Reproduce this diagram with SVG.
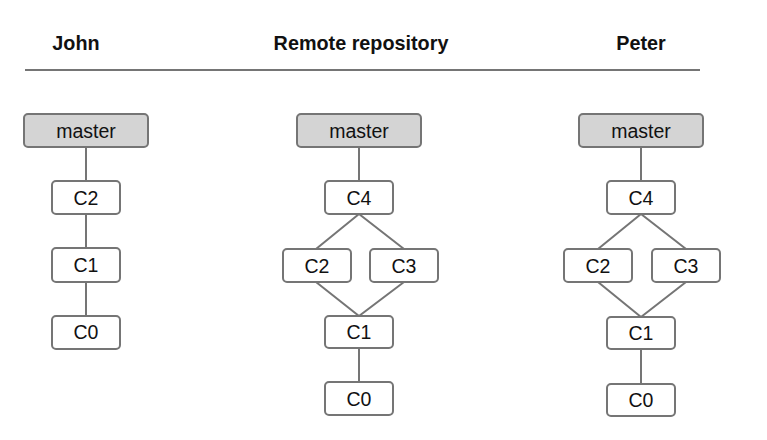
<svg xmlns="http://www.w3.org/2000/svg" width="767" height="440" viewBox="0 0 767 440">
<style>
.bg{fill:#fff}
.title{font-family:"Liberation Sans",Arial,sans-serif;font-weight:bold;font-size:19.8px;fill:#111;text-anchor:middle}
.node rect{fill:#fff;stroke:#757575;stroke-width:2}
.node.branch rect{fill:#d4d4d4}
.node text{font-family:"Liberation Sans",Arial,sans-serif;font-size:19.5px;fill:#111;text-anchor:middle}
.edge{stroke:#757575;stroke-width:2;fill:none}
</style>
<rect class="bg" x="0" y="0" width="767" height="440"/>
<text class="title" x="76" y="50">John</text>
<text class="title" x="361" y="50">Remote repository</text>
<text class="title" x="641" y="50">Peter</text>
<line x1="25" y1="70" x2="700" y2="70" stroke="#757575" stroke-width="2"/>
<g id="connectors">
<line class="edge" x1="86" y1="147" x2="86" y2="181"/>
<line class="edge" x1="86" y1="214" x2="86" y2="248"/>
<line class="edge" x1="86" y1="282" x2="86" y2="316"/>
<line class="edge" x1="359" y1="147" x2="359" y2="181"/>
<path class="edge" d="M316,249 L359,214 L404,249"/>
<path class="edge" d="M316,282 L359,316 L404,282"/>
<line class="edge" x1="359" y1="348" x2="359" y2="382"/>
<line class="edge" x1="641" y1="147" x2="641" y2="181"/>
<path class="edge" d="M598,249 L641,214 L686,249"/>
<path class="edge" d="M598,282 L641,317 L686,282"/>
<line class="edge" x1="641" y1="349" x2="641" y2="384"/>
</g>
<g id="john-master" class="node branch"><rect x="24" y="114" width="124" height="33" rx="4"/><text x="86" y="138">master</text></g>
<g id="john-c2" class="node"><rect x="52" y="181" width="68" height="33" rx="4"/><text x="86" y="205">C2</text></g>
<g id="john-c1" class="node"><rect x="52" y="248" width="68" height="34" rx="4"/><text x="86" y="272">C1</text></g>
<g id="john-c0" class="node"><rect x="52" y="316" width="68" height="33" rx="4"/><text x="86" y="339">C0</text></g>
<g id="remote-master" class="node branch"><rect x="297" y="114" width="124" height="33" rx="4"/><text x="359" y="138">master</text></g>
<g id="remote-c4" class="node"><rect x="325" y="181" width="68" height="33" rx="4"/><text x="359" y="205">C4</text></g>
<g id="remote-c2" class="node"><rect x="283" y="249" width="68" height="33" rx="4"/><text x="317" y="273">C2</text></g>
<g id="remote-c3" class="node"><rect x="370" y="249" width="68" height="33" rx="4"/><text x="404" y="273">C3</text></g>
<g id="remote-c1" class="node"><rect x="325" y="316" width="68" height="32" rx="4"/><text x="359" y="339">C1</text></g>
<g id="remote-c0" class="node"><rect x="325" y="382" width="68" height="33" rx="4"/><text x="359" y="406">C0</text></g>
<g id="peter-master" class="node branch"><rect x="579" y="114" width="124" height="33" rx="4"/><text x="641" y="138">master</text></g>
<g id="peter-c4" class="node"><rect x="607" y="181" width="68" height="33" rx="4"/><text x="641" y="205">C4</text></g>
<g id="peter-c2" class="node"><rect x="564" y="249" width="68" height="33" rx="4"/><text x="598" y="273">C2</text></g>
<g id="peter-c3" class="node"><rect x="652" y="249" width="68" height="33" rx="4"/><text x="686" y="273">C3</text></g>
<g id="peter-c1" class="node"><rect x="607" y="317" width="68" height="32" rx="4"/><text x="641" y="340">C1</text></g>
<g id="peter-c0" class="node"><rect x="607" y="384" width="68" height="32" rx="4"/><text x="641" y="407">C0</text></g>
</svg>
